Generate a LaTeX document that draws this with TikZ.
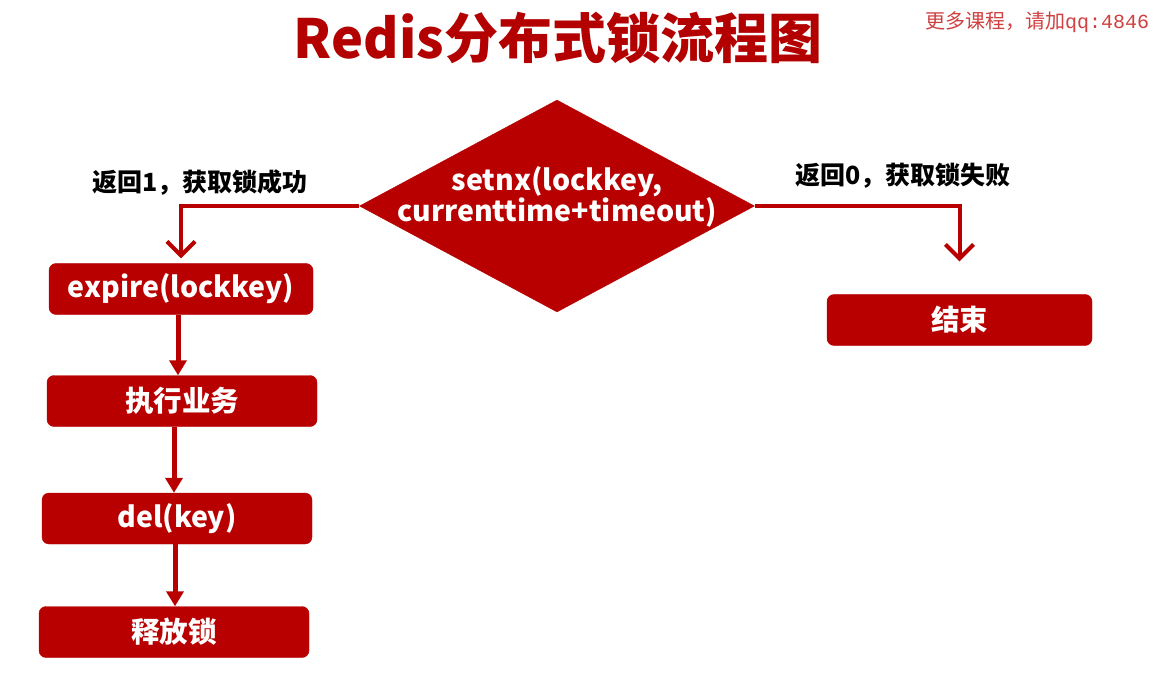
\documentclass[tikz,border=0pt]{standalone}
\usepackage{fontspec}
\setmainfont{Noto Sans CJK SC}
\newfontfamily\wmmono{Liberation Mono}
\usetikzlibrary{shapes.geometric,arrows.meta,calc}
\definecolor{dred}{HTML}{B80000}
\definecolor{tred}{HTML}{B30000}
\definecolor{wred}{HTML}{D04040}
\begin{document}
\begin{tikzpicture}[x=1pt,y=-1pt,
  box/.style={draw=dred,fill=dred,rounded corners=7pt,text=white,font=\bfseries\fontsize{28.5}{30}\selectfont,inner sep=0pt,minimum height=51pt},
  lab/.style={text=black,font=\bfseries\fontsize{25}{28}\selectfont,inner sep=0pt},
  conn/.style={draw=dred,line width=4pt,-{Straight Barb[length=14pt,width=28pt,line width=4pt]}},
  flow/.style={draw=dred,line width=5pt,-{Triangle[length=15pt,width=17pt]}}]
\useasboundingbox (0,0) rectangle (1158,700);
\fill[white] (0,0) rectangle (1158,700);
% title
\node[text=tred,font=\bfseries\fontsize{54}{60}\selectfont,inner sep=0pt] (title) at (558,38) {Redis分布式锁流程图};
% watermark
\node[anchor=west,text=wred,font=\fontsize{20}{22}\selectfont,inner sep=0pt] (wm) at (925,22) {更多课程，请加{\wmmono qq:4846}};
% decision
\node[diamond,aspect=1.863,fill=dred,draw=dred,minimum width=395pt,minimum height=212pt,inner sep=0pt] (d) at (557,206) {};
\node[text=white,font=\bfseries\fontsize{28.5}{31}\selectfont,align=center,inner sep=0pt] (dt) at (557,197) {setnx(lockkey,\\currenttime+timeout)};
% boxes
\node[box,minimum width=264pt] (e1) at (181,289) {expire(lockkey)};
\node[box,minimum width=270pt] (e2) at (182,401) {执行业务};
\node[box,minimum width=270pt] (e3) at (177,518.5) {del(key)};
\node[box,minimum width=270pt] (e4) at (174,632) {释放锁};
\node[box,minimum width=265pt] (end) at (959.5,320) {结束};
% labels
\node[lab] (l1) at (200,183) {返回1，获取锁成功};
\node[lab] (l0) at (903,176) {返回0，获取锁失败};
% connectors
\draw[conn,shorten >=5pt] (d.west) -| (e1.north);
\draw[conn,shorten >=33pt] (d.east) -| (end.north);
\draw[flow] ([xshift=-3pt]e1.south) -- ([xshift=-3pt]e1.south |- e2.north);
\draw[flow] ([xshift=-8pt]e2.south) -- ([xshift=-8pt]e2.south |- e3.north);
\draw[flow] ([xshift=-2pt]e3.south) -- ([xshift=-2pt]e3.south |- e4.north);
\end{tikzpicture}
\end{document}
